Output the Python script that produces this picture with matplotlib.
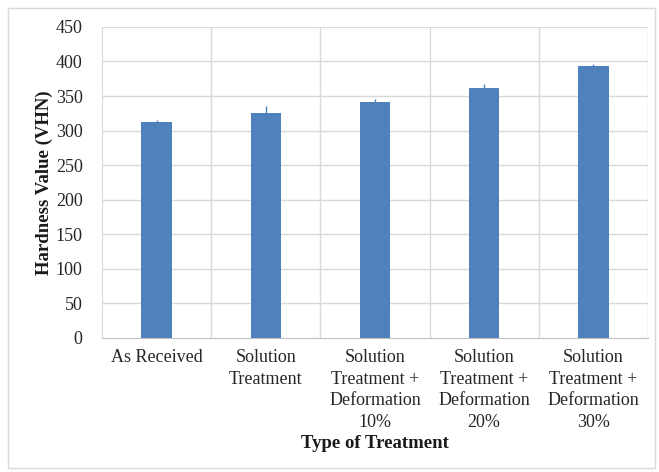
import numpy as np
import matplotlib.pyplot as plt
from matplotlib.patches import Rectangle

plt.rcParams['font.family'] = ['Liberation Serif', 'DejaVu Serif']

# Hardness by treatment
categories = ['As Received', 'Solution\nTreatment', 'Solution\nTreatment +\nDeformation\n10%',
              'Solution\nTreatment +\nDeformation\n20%', 'Solution\nTreatment +\nDeformation\n30%']
hardness = [313, 325, 341, 362, 394]
errors = [2, 10, 4, 5, 3]
yticks = np.arange(0, 451, 50)

fig = plt.figure(figsize=(6.59, 4.72), dpi=100)
ax = fig.add_axes([0.155, 0.284, 0.828, 0.659])

x = np.arange(len(categories))
ax.bar(x, hardness, width=0.28, color='#4F81BD', yerr=errors,
       error_kw=dict(ecolor='#4F81BD', elinewidth=1, capsize=0), zorder=3)

ax.set_xlim(-0.5, len(categories) - 0.5)
ax.set_ylim(0, 450)
ax.set_yticks(yticks)
ax.set_xticks(x)
ax.set_xticklabels(categories, fontsize=13, va='top', linespacing=1.35)
ax.tick_params(axis='both', length=0, labelsize=13, labelcolor='#262626')
ax.tick_params(axis='y', pad=14)
ax.tick_params(axis='x', pad=8)

# horizontal and category-boundary gridlines
for yv in yticks[1:]:
    ax.axhline(yv, color='#d9d9d9', lw=1, zorder=1)
for xv in np.arange(0.5, len(categories), 1.0):
    ax.axvline(xv, color='#d9d9d9', lw=1, zorder=1)

for side in ['top', 'right']:
    ax.spines[side].set_visible(False)
ax.spines['left'].set_color('#d9d9d9')
ax.spines['bottom'].set_color('#bfbfbf')

ax.set_ylabel('Hardness Value (VHN)', fontsize=13.5, fontweight='bold', labelpad=2,
              color='#1a1a1a')
ax.set_xlabel('Type of Treatment', fontsize=13.5, fontweight='bold', labelpad=3,
              color='#1a1a1a')

fig.patches.append(Rectangle((0.012, 0.008), 0.982, 0.975, transform=fig.transFigure,
                             fill=False, edgecolor='#d9d9d9', lw=1))

fig.savefig('out.png', dpi=100)
